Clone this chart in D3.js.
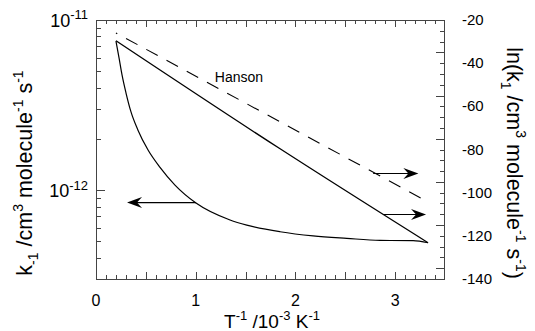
<!DOCTYPE html>
<html><head><meta charset="utf-8">
<script src="https://cdn.jsdelivr.net/npm/d3@7"></script>
<style>
body{margin:0;background:#fff}
svg{display:block}
text{font-family:"Liberation Sans",Arial,Helvetica,sans-serif;fill:#000}
</style>
</head><body>
<svg id="c" width="535" height="331"></svg>
<script>
// ---- data ----
const xTickValues = [0, 1, 2, 3];
const xTickLabels = ["0", "1", "2", "3"];
const leftTickValues = [1e-11, 1e-12];
const leftTickExponents = ["-11", "-12"];
const rightTickValues = [-20, -40, -60, -80, -100, -120, -140];
const rightTickLabels = ["-20", "-40", "-60", "-80", "-100", "-120", "-140"];

// k_-1 curve (left axis, cm^3 molecule^-1 s^-1)
const kX   = [0.20, 0.231, 0.261, 0.301, 0.351, 0.421, 0.522, 0.642, 0.792, 1.003, 1.344, 1.512, 1.846, 2.177, 2.515, 2.849, 3.18, 3.33];
const kVal = [7.52e-12, 5.98e-12, 4.75e-12, 3.72e-12, 2.88e-12, 2.25e-12, 1.72e-12, 1.36e-12, 1.07e-12, 8.39e-13, 6.67e-13, 6.22e-13, 5.69e-13, 5.38e-13, 5.20e-13, 5.06e-13, 5.04e-13, 4.90e-13];

// ln(k_1) (right axis)
const lnX   = [0.20, 1.85, 3.33];
const lnVal = [-29.6, -79.8, -123.2];

// Hanson ln(k_1) (right axis, dashed)
const hansonX   = [0.20, 3.33];
const hansonVal = [-26.0, -104.3];

// arrows (data coordinates)
const leftArrow = {from: 1.003, to: 0.311, k: 8.44e-13};
const rightArrows = [{from: 2.78, to: 3.233, v: -91.1}, {from: 2.882, to: 3.31, v: -110.1}];

// ---- layout ----
const L = 96, R = 444, T = 20, B = 279;
const svg = d3.select("#c");
const x  = d3.scaleLinear().domain([0, 3.49]).range([L, R]);
const yL = d3.scaleLog().domain([3e-13, 1e-11]).range([B, T]);
const yR = d3.scaleLinear().domain([-140, -20]).range([B, T]);

const axisColor = "#444";
function styleAxis(g){
  g.select(".domain").remove();
  g.selectAll(".tick line").attr("stroke", axisColor).attr("stroke-width", 1).attr("shape-rendering","crispEdges");
  g.selectAll(".tick text").remove();
}

const minorX = d3.range(0, 35).map(i => i / 10);
const majorX = d3.range(0, 7).map(i => i / 2);
// bottom
svg.append("g").attr("transform", `translate(0,${B})`).call(d3.axisBottom(x).tickValues(minorX).tickSize(-4).tickFormat("")).call(styleAxis);
svg.append("g").attr("transform", `translate(0,${B})`).call(d3.axisBottom(x).tickValues(majorX).tickSize(-7).tickFormat("")).call(styleAxis);
// top
svg.append("g").attr("transform", `translate(0,${T})`).call(d3.axisTop(x).tickValues(minorX).tickSize(-4).tickFormat("")).call(styleAxis);
svg.append("g").attr("transform", `translate(0,${T})`).call(d3.axisTop(x).tickValues(majorX).tickSize(-7).tickFormat("")).call(styleAxis);
// left (log)
const minorL = [3,4,5,6,7,8,9].map(m => m * 1e-13).concat([2,3,4,5,6,7,8,9].map(m => m * 1e-12));
svg.append("g").attr("transform", `translate(${L},0)`).call(d3.axisLeft(yL).tickValues(minorL).tickSize(-5).tickFormat("")).call(styleAxis);
svg.append("g").attr("transform", `translate(${L},0)`).call(d3.axisLeft(yL).tickValues([1e-12]).tickSize(-9).tickFormat("")).call(styleAxis);
// right
const minorR = d3.range(-135, -20, 5);
const majorR = d3.range(-135, -20, 20);
svg.append("g").attr("transform", `translate(${R},0)`).call(d3.axisRight(yR).tickValues(minorR).tickSize(-4).tickFormat("")).call(styleAxis);
svg.append("g").attr("transform", `translate(${R},0)`).call(d3.axisRight(yR).tickValues(majorR).tickSize(-8).tickFormat("")).call(styleAxis);

// frame
svg.append("rect").attr("x", L).attr("y", T).attr("width", R - L).attr("height", B - T)
  .attr("fill", "none").attr("stroke", axisColor).attr("stroke-width", 1).attr("shape-rendering","crispEdges");

// ---- curves ----
const kLine = d3.line().x((d, i) => x(kX[i])).y((d, i) => yL(kVal[i])).curve(d3.curveMonotoneX);
svg.append("path").attr("d", kLine(kX)).attr("fill", "none").attr("stroke", "#000").attr("stroke-width", 1.2);

const lnLine = d3.line().x((d, i) => x(lnX[i])).y((d, i) => yR(lnVal[i])).curve(d3.curveMonotoneX);
svg.append("path").attr("d", lnLine(lnX)).attr("fill", "none").attr("stroke", "#000").attr("stroke-width", 1.3);

const hLine = d3.line().x((d, i) => x(hansonX[i])).y((d, i) => yR(hansonVal[i]));
svg.append("path").attr("d", hLine(hansonX)).attr("fill", "none").attr("stroke", "#000").attr("stroke-width", 1.1)
  .attr("stroke-dasharray", "13,10").attr("stroke-dashoffset", 11.5);

// ---- arrows ----
function arrow(x1, x2, yy){
  const d = x2 > x1 ? 1 : -1;
  svg.append("line").attr("x1", x1).attr("x2", x2 - d * 9).attr("y1", yy).attr("y2", yy)
    .attr("stroke", "#000").attr("stroke-width", 1.1);
  svg.append("path").attr("d", `M${x2},${yy} L${x2 - d*15},${yy - 5.5} L${x2 - d*10},${yy} L${x2 - d*15},${yy + 5.5} Z`).attr("fill", "#000");
}
arrow(x(leftArrow.from), x(leftArrow.to), yL(leftArrow.k));
rightArrows.forEach(a => arrow(x(a.from), x(a.to), yR(a.v)));

// ---- text helpers ----
function rich(sel, parts, size, small){
  let off = 0;
  parts.forEach(p => {
    const target = p.sup ? -0.42 * size : p.sub ? 0.3 * size : 0;
    const ts = sel.append("tspan").text(p.t).attr("font-size", (p.sup || p.sub) ? small : size);
    if (target !== off) { ts.attr("dy", target - off); off = target; }
  });
}

// x tick labels
xTickValues.forEach((v, i) => {
  svg.append("text").attr("x", x(v)).attr("y", 306).attr("text-anchor", "middle").attr("font-size", 16).text(xTickLabels[i]);
});
// left tick labels
leftTickValues.forEach((v, i) => {
  const t = svg.append("text").attr("x", 88).attr("y", yL(v) + 7).attr("text-anchor", "end");
  rich(t, [{t: "10"}, {t: leftTickExponents[i], sup: true}], 18, 13);
});
// right tick labels
rightTickValues.forEach((v, i) => {
  svg.append("text").attr("x", 462).attr("y", yR(v) + 5).attr("text-anchor", "start").attr("font-size", 15).text(rightTickLabels[i]);
});

// x title
const xt = svg.append("text").attr("x", 272).attr("y", 328).attr("text-anchor", "middle");
rich(xt, [{t: "T"}, {t: "-1", sup: true}, {t: " /10"}, {t: "-3", sup: true}, {t: " K"}, {t: "-1", sup: true}], 19, 13);

// left title
const lt = svg.append("text").attr("transform", "translate(32,173) rotate(-90)").attr("text-anchor", "middle");
rich(lt, [{t: "k"}, {t: "-1", sub: true}, {t: " /cm"}, {t: "3", sup: true}, {t: " molecule"}, {t: "-1", sup: true}, {t: " s"}, {t: "-1", sup: true}], 21.5, 14);

// right title
const rt = svg.append("text").attr("transform", "translate(507,163) rotate(90)").attr("text-anchor", "middle");
rich(rt, [{t: "ln(k"}, {t: "1", sub: true}, {t: " /cm"}, {t: "3", sup: true}, {t: " molecule"}, {t: "-1", sup: true}, {t: " s"}, {t: "-1", sup: true}, {t: ")"}], 21.5, 14);

// Hanson label
svg.append("text").attr("x", 239).attr("y", 82).attr("text-anchor", "middle").attr("font-size", 14).text("Hanson");
</script>
</body></html>
